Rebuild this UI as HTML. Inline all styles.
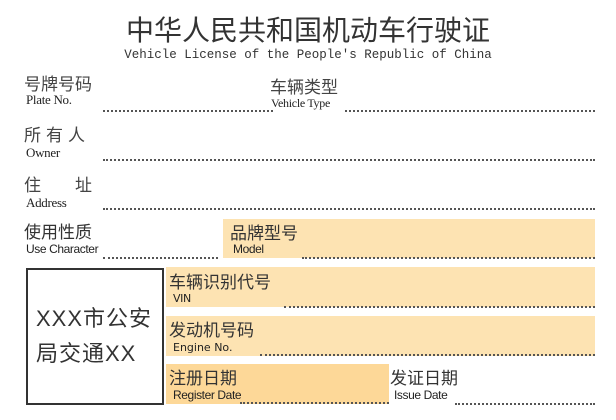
<!DOCTYPE html>
<html><head><meta charset="utf-8"><style>
body{margin:0;width:616px;height:420px;background:#fff;position:relative;overflow:hidden;font-family:"Liberation Serif","Noto Serif CJK SC",serif;color:#222}
div{position:absolute}
.cn{font-family:"Liberation Sans","Noto Sans CJK SC",sans-serif;font-size:17px;line-height:18px;white-space:nowrap;color:#333}
.cs{font-family:"Liberation Sans","Noto Sans CJK SC",sans-serif;font-size:17px;line-height:18px;white-space:nowrap;color:#444}
.en{font-size:13px;line-height:14px;white-space:nowrap;letter-spacing:-0.3px}
.ens{font-family:"Liberation Sans",sans-serif;font-size:12px;line-height:14px;white-space:nowrap;letter-spacing:-0.4px}
.dot{border-bottom:2px dotted #555;height:0}
.box{background:#fde3b2}
</style></head><body>
<div class="cn" style="left:0;width:616px;top:14px;text-align:center;font-size:28px;line-height:34px;color:#333">中华人民共和国机动车行驶证</div>
<div style="left:0;width:616px;top:48px;text-align:center;font-family:'Liberation Mono',monospace;font-size:12.5px;line-height:14px;color:#333">Vehicle License of the People's Republic of China</div>

<div class="cs" style="left:24px;top:76px">号牌号码</div>
<div class="en" style="left:26px;top:93px">Plate No.</div>
<div class="dot" style="left:103px;width:170px;top:110px"></div>
<div class="cs" style="left:270px;top:79px">车辆类型</div>
<div class="en" style="left:271px;top:96px;font-size:12px">Vehicle Type</div>
<div class="dot" style="left:345px;width:250px;top:110px"></div>

<div class="cs" style="left:24px;top:127px;letter-spacing:5px">所有人</div>
<div class="en" style="left:26px;top:146px">Owner</div>
<div class="dot" style="left:103px;width:492px;top:159px"></div>

<div class="cs" style="left:24px;top:177px">住<span style="margin-left:34px">址</span></div>
<div class="en" style="left:26px;top:196px">Address</div>
<div class="dot" style="left:103px;width:492px;top:208px"></div>

<div class="cn" style="left:24px;top:224px">使用性质</div>
<div class="ens" style="left:26px;top:242px">Use Character</div>
<div class="dot" style="left:103px;width:115px;top:257px"></div>

<div class="box" style="left:223px;top:219px;width:372px;height:39px"></div>
<div class="cn" style="left:230px;top:225px">品牌型号</div>
<div class="ens" style="left:233px;top:242px">Model</div>
<div class="dot" style="left:302px;width:293px;top:257px"></div>

<div style="left:26px;top:268px;width:134px;height:133px;border:2px solid #333"></div>
<div class="cn" style="left:36px;top:307px;font-size:22px;line-height:24px;letter-spacing:1px">XXX市公安</div>
<div class="cn" style="left:36px;top:342px;font-size:22px;line-height:24px;letter-spacing:1px">局交通XX</div>

<div class="box" style="left:166px;top:267px;width:429px;height:40px"></div>
<div class="cn" style="left:169px;top:274px">车辆识别代号</div>
<div class="ens" style="left:173px;top:292px;font-family:'DejaVu Sans',sans-serif;font-size:11px">VIN</div>
<div class="dot" style="left:284px;width:311px;top:306px"></div>

<div class="box" style="left:166px;top:316px;width:429px;height:40px"></div>
<div class="cn" style="left:169px;top:322px">发动机号码</div>
<div class="ens" style="left:173px;top:341px;font-family:'DejaVu Sans',sans-serif;font-size:11px;letter-spacing:0">Engine No.</div>
<div class="dot" style="left:260px;width:335px;top:354px"></div>

<div style="left:166px;top:364px;width:223px;height:40px;background:#fdd898"></div>
<div class="cn" style="left:169px;top:370px">注册日期</div>
<div class="ens" style="left:173px;top:388px">Register Date</div>
<div class="dot" style="left:240px;width:149px;top:402px"></div>

<div class="cn" style="left:390px;top:370px">发证日期</div>
<div class="ens" style="left:394px;top:388px">Issue Date</div>
<div class="dot" style="left:455px;width:140px;top:403px"></div>
</body></html>
